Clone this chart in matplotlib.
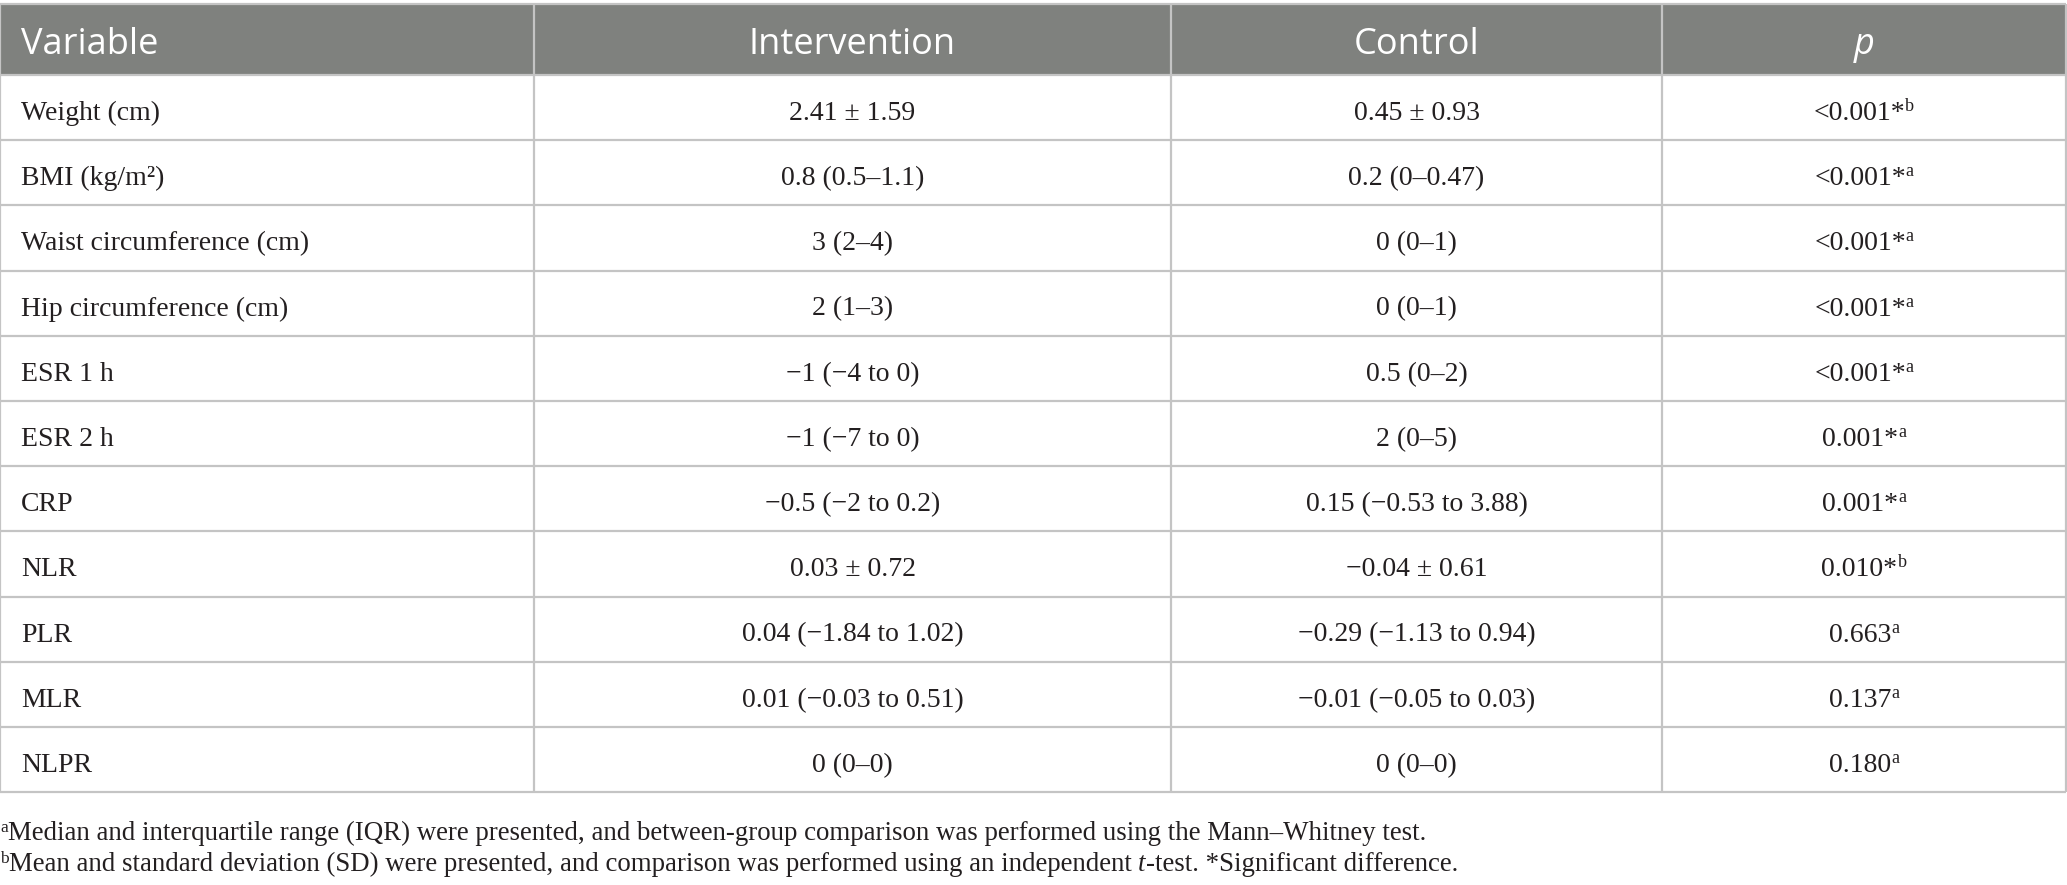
import matplotlib
matplotlib.use("Agg")
import matplotlib.pyplot as plt
from matplotlib.patches import Rectangle

# ---------------- data ----------------
headers = ["Variable", "Intervention", "Control", "p"]
variables = ["Weight (cm)", "BMI (kg/m²)", "Waist circumference (cm)", "Hip circumference (cm)",
             "ESR 1 h", "ESR 2 h", "CRP", "NLR", "PLR", "MLR", "NLPR"]
intervention = ["2.41 ± 1.59", "0.8 (0.5–1.1)", "3 (2–4)", "2 (1–3)", "−1 (−4 to 0)",
                "−1 (−7 to 0)", "−0.5 (−2 to 0.2)", "0.03 ± 0.72", "0.04 (−1.84 to 1.02)",
                "0.01 (−0.03 to 0.51)", "0 (0–0)"]
control = ["0.45 ± 0.93", "0.2 (0–0.47)", "0 (0–1)", "0 (0–1)", "0.5 (0–2)", "2 (0–5)",
           "0.15 (−0.53 to 3.88)", "−0.04 ± 0.61", "−0.29 (−1.13 to 0.94)",
           "−0.01 (−0.05 to 0.03)", "0 (0–0)"]
p_values = ["<0.001*", "<0.001*", "<0.001*", "<0.001*", "<0.001*", "0.001*", "0.001*",
            "0.010*", "0.663", "0.137", "0.180"]
p_marks = ["b", "a", "a", "a", "a", "a", "a", "b", "a", "a", "a"]
footnote_a = "Median and interquartile range (IQR) were presented, and between-group comparison was performed using the Mann–Whitney test."
footnote_b1 = "Mean and standard deviation (SD) were presented, and comparison was performed using an independent "
footnote_b2 = "-test. *Significant difference."

# ---------------- layout ----------------
W, H = 2067, 885
col_edges = [0, 534, 1171, 1662, 2066]
head_top, head_bot = 4, 75
row_h = 65.2
n_rows = len(variables)

HEAD_BG = "#7f817e"
LINE = "#c4c4c4"
TXT = "#231f20"
SERIF = "Liberation Serif"
SANS = "Open Sans"
BODY_FS = 20
FOOT_FS = 19.4

fig = plt.figure(figsize=(W / 100, H / 100), dpi=100)
ax = fig.add_axes([0, 0, 1, 1])
ax.set_xlim(0, W)
ax.set_ylim(H, 0)
ax.axis("off")
renderer = fig.canvas.get_renderer()


def width_of(t):
    bb = t.get_window_extent(renderer=renderer)
    return bb.width


def draw_segments(x, y, segs, ha="left"):
    """segs: list of (text, dict(fontsize, style, dy))"""
    arts = []
    for s, p in segs:
        t = ax.text(0, y + p.get("dy", 0), s, fontsize=p.get("fs", BODY_FS), family=SERIF,
                    style=p.get("style", "normal"), color=TXT, va="baseline", ha="left")
        arts.append(t)
    widths = [width_of(t) for t in arts]
    total = sum(widths)
    start = x - total / 2 if ha == "center" else x
    cur = start
    for t, w in zip(arts, widths):
        t.set_x(cur)
        cur += w


# header background
ax.add_patch(Rectangle((0, head_top), W - 1, head_bot - head_top, facecolor=HEAD_BG,
                       edgecolor="none", zorder=0))

# horizontal lines
ys = [head_top, head_bot] + [head_bot + row_h * (i + 1) for i in range(n_rows)]
for y in ys:
    ax.plot([0, col_edges[-1]], [y, y], color=LINE, lw=1.6, solid_capstyle="butt", zorder=2)
# vertical lines
y_end = head_bot + row_h * n_rows
for x in col_edges:
    ax.plot([x, x], [head_top, y_end], color=LINE, lw=1.6, solid_capstyle="butt", zorder=2)

# header text
head_base = 54
ax.text(21, head_base, headers[0], fontsize=26, family=SANS, color="white", va="baseline", ha="left")
for j in range(1, 4):
    cx = (col_edges[j] + col_edges[j + 1]) / 2
    ax.text(cx, head_base, headers[j], fontsize=26, family=SANS, color="white", va="baseline",
            ha="center", style="italic" if j == 3 else "normal")

# body
for i in range(n_rows):
    base = head_bot + row_h * i + 45
    ax.text(21, base, variables[i], fontsize=BODY_FS, family=SERIF, color=TXT, va="baseline", ha="left")
    ax.text((col_edges[1] + col_edges[2]) / 2, base, intervention[i], fontsize=BODY_FS, family=SERIF,
            color=TXT, va="baseline", ha="center")
    ax.text((col_edges[2] + col_edges[3]) / 2, base, control[i], fontsize=BODY_FS, family=SERIF,
            color=TXT, va="baseline", ha="center")
    draw_segments((col_edges[3] + col_edges[4]) / 2, base,
                  [(p_values[i], {}), (p_marks[i], {"fs": 13, "dy": -9})], ha="center")

# footnotes
draw_segments(0, 840, [("a", {"fs": 12.5, "dy": -8}), (footnote_a, {"fs": FOOT_FS})])
draw_segments(0, 871, [("b", {"fs": 12.5, "dy": -8}), (footnote_b1, {"fs": FOOT_FS}),
                       ("t", {"fs": FOOT_FS, "style": "italic"}), (footnote_b2, {"fs": FOOT_FS})])

fig.savefig("out.png", dpi=100)
